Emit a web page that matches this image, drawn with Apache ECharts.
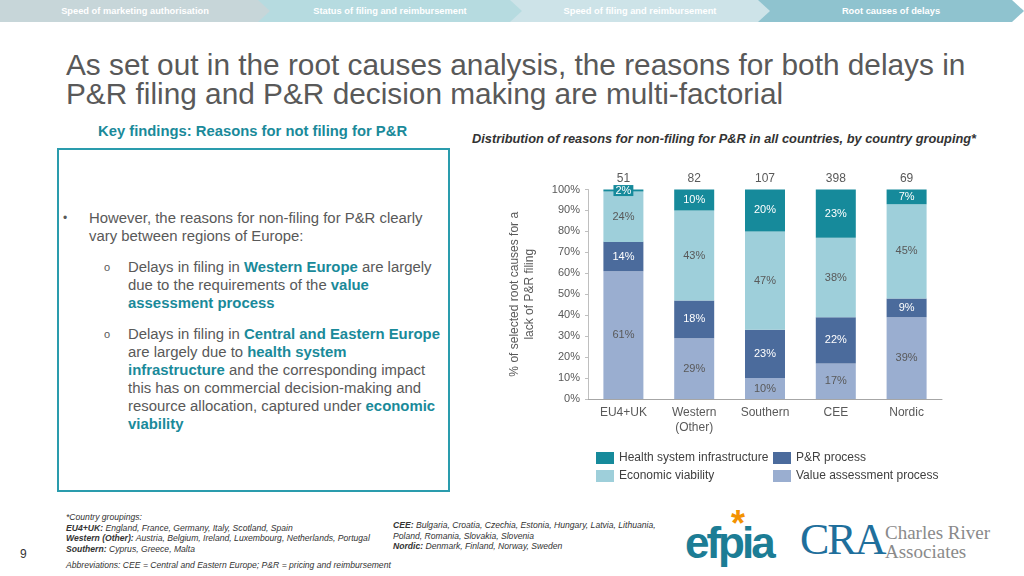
<!DOCTYPE html>
<html>
<head>
<meta charset="utf-8">
<script src="https://cdn.jsdelivr.net/npm/echarts@6/dist/echarts.min.js"></script>
<style>
  html, body { margin:0; padding:0; width:1024px; height:576px; overflow:hidden; background:#fff;
    font-family:"Liberation Sans", Arial, sans-serif; }
  .abs { position:absolute; }
  .tab { position:absolute; top:0; height:22px; color:#fff; font-size:9.3px; font-weight:bold;
    display:flex; align-items:center; justify-content:center;
    clip-path: polygon(0 0, calc(100% - 12px) 0, 100% 50%, calc(100% - 12px) 100%, 0 100%); }
  #title { left:66px; top:51px; font-size:29.8px; line-height:28.5px; color:#595959; white-space:nowrap; }
  #kf { left:98px; top:123px; font-size:14.8px; font-weight:bold; color:#1a8a9a; white-space:nowrap; }
  #box { left:57px; top:148px; width:389px; height:340px; border:2px solid #2a9cad; }
  .txt { font-size:14.9px; line-height:18px; color:#595959; white-space:nowrap; }
  .hl { color:#1a8a9a; font-weight:bold; }
  #sub { left:472px; top:131px; font-size:12.8px; font-weight:bold; font-style:italic; color:#333; white-space:nowrap; }
  .fn { font-size:8.6px; line-height:10.5px; font-style:italic; color:#333; white-space:nowrap; }
  .fn b { font-weight:bold; }
  #chart { position:absolute; left:0; top:0; width:1024px; height:576px; }
</style>
</head>
<body>
<div class="tab" style="left:0;width:270px;background:#c7d6d9;z-index:4">Speed of marketing authorisation</div>
<div class="tab" style="left:258px;width:264px;background:#b6dbe0;z-index:3">Status of filing and reimbursement</div>
<div class="tab" style="left:510px;width:260px;background:#cde3e8;z-index:2">Speed of filing and reimbursement</div>
<div class="tab" style="left:758px;width:266px;background:#8fc3cf;z-index:1">Root causes of delays</div>

<div id="title" class="abs">As set out in the root causes analysis, the reasons for both delays in<br>P&amp;R filing and P&amp;R decision making are multi-factorial</div>
<div id="kf" class="abs">Key findings: Reasons for not filing for P&amp;R</div>
<div id="box" class="abs"></div>
<div class="abs txt" style="left:63px;top:209px;font-size:12px;">•</div>
<div class="abs txt" style="left:89px;top:209px;">However, the reasons for non-filing for P&amp;R clearly<br>vary between regions of Europe:</div>
<div class="abs txt" style="left:104px;top:258px;font-size:11px;">o</div>
<div class="abs txt" style="left:128px;top:258px;">Delays in filing in <span class="hl">Western Europe</span> are largely<br>due to the requirements of the <span class="hl">value</span><br><span class="hl">assessment process</span></div>
<div class="abs txt" style="left:104px;top:325px;font-size:11px;">o</div>
<div class="abs txt" style="left:128px;top:325px;">Delays in filing in <span class="hl">Central and Eastern Europe</span><br>are largely due to <span class="hl">health system</span><br><span class="hl">infrastructure</span> and the corresponding impact<br>this has on commercial decision-making and<br>resource allocation, captured under <span class="hl">economic</span><br><span class="hl">viability</span></div>

<div id="sub" class="abs">Distribution of reasons for non-filing for P&amp;R in all countries, by country grouping*</div>

<div class="abs fn" style="left:66px;top:512px;">*Country groupings:<br><b>EU4+UK:</b> England, France, Germany, Italy, Scotland, Spain<br><b>Western (Other):</b> Austria, Belgium, Ireland, Luxembourg, Netherlands, Portugal<br><b>Southern:</b> Cyprus, Greece, Malta</div>
<div class="abs fn" style="left:66px;top:560px;">Abbreviations: CEE = Central and Eastern Europe; P&amp;R = pricing and reimbursement</div>
<div class="abs fn" style="left:393px;top:520px;"><b>CEE:</b> Bulgaria, Croatia, Czechia, Estonia, Hungary, Latvia, Lithuania,<br>Poland, Romania, Slovakia, Slovenia<br><b>Nordic:</b> Denmark, Finland, Norway, Sweden</div>
<div class="abs" style="left:20px;top:547px;font-size:12px;color:#333;">9</div>

<div class="abs" style="left:685px;top:518px;font-size:44px;font-weight:bold;color:#1c7d95;letter-spacing:-3px;line-height:50px;">efpia</div>
<div class="abs" style="left:731px;top:504px;font-size:36px;font-weight:bold;color:#f39200;line-height:40px;">*</div>
<div class="abs" style="left:800px;top:515px;font-family:'Liberation Serif',serif;font-size:44px;color:#1f6f9c;letter-spacing:-2px;line-height:50px;">CRA</div>
<div class="abs" style="left:885px;top:523px;font-family:'Liberation Serif',serif;font-size:19px;color:#8a8a8a;line-height:19px;">Charles River<br>Associates</div>

<div id="chart"></div>
<script>
const categories = ['EU4+UK', 'Western\n(Other)', 'Southern', 'CEE', 'Nordic'];
const totals = ['51', '82', '107', '398', '69'];
const yTicks = [0, 10, 20, 30, 40, 50, 60, 70, 80, 90, 100];
const valueAssessment = [61, 29, 10, 17, 39];
const prProcess = [14, 18, 23, 22, 9];
const economicViability = [24, 43, 47, 38, 45];
const healthSystem = [2, 10, 20, 23, 7];

const C = { health:'#168a9b', econ:'#9ecfda', pr:'#4b6b9c', value:'#9aaed0' };
const FONT = 'Liberation Sans';
const chart = echarts.init(document.getElementById('chart'), null, { renderer:'canvas' });

function lbl(color){ return { show:true, position:'inside', formatter:'{c}%', color:color, fontSize:11, fontFamily:FONT }; }
function series(name, data, color, labelColor){
  return { name:name, type:'bar', stack:'s', barWidth:40, data:data, clip:true,
    itemStyle:{ color:color }, label:lbl(labelColor), emphasis:{ disabled:true } };
}
const healthData = healthSystem.map((v,i)=> i===0 ? { value:v, label:{ backgroundColor:C.health, padding:[0,2] } } : v);

function leg(name, left, top){
  return { data:[name], left:left, top:top, padding:0, icon:'rect', itemWidth:18, itemHeight:12,
    selectedMode:false, textStyle:{ fontSize:12, color:'#404040', fontFamily:FONT } };
}

chart.setOption({
  animation:false,
  grid:{ left:588, right:82, top:189.5, bottom:177 },
  legend:[
    leg('Health system infrastructure', 596, 452),
    leg('P&R process', 773, 452),
    leg('Economic viability', 596, 470),
    leg('Value assessment process', 773, 470)
  ],
  xAxis:[
    { type:'category', data:categories, position:'bottom',
      axisLine:{ lineStyle:{ color:'#a6a6a6' } }, axisTick:{ show:false },
      axisLabel:{ fontSize:12, color:'#595959', fontFamily:FONT, margin:6, lineHeight:15 } },
    { type:'category', data:totals, position:'top',
      axisLine:{ show:false }, axisTick:{ show:false },
      axisLabel:{ fontSize:12, color:'#595959', fontFamily:FONT, margin:5 } }
  ],
  yAxis:{ type:'value', min:yTicks[0], max:yTicks[yTicks.length-1], interval:10,
    name:'% of selected root causes for a\nlack of P&R filing', nameLocation:'middle', nameGap:51,
    nameTextStyle:{ fontSize:12, color:'#595959', fontFamily:FONT, lineHeight:15 },
    axisLine:{ show:true, lineStyle:{ color:'#bfbfbf' } },
    axisTick:{ show:true, length:3, lineStyle:{ color:'#bfbfbf' } },
    splitLine:{ show:false },
    axisLabel:{ formatter:'{value}%', fontSize:11, color:'#595959', fontFamily:FONT, margin:8 } },
  series:[
    series('Value assessment process', valueAssessment, C.value, '#595959'),
    series('P&R process', prProcess, C.pr, '#ffffff'),
    series('Economic viability', economicViability, C.econ, '#595959'),
    series('Health system infrastructure', healthData, C.health, '#ffffff')
  ]
});
</script>
</body>
</html>
